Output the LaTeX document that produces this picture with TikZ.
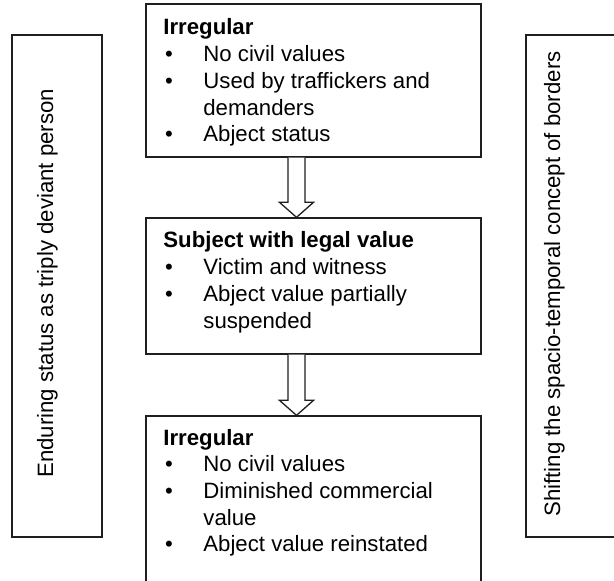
\documentclass[tikz,border=0pt]{standalone}
\usepackage{fontspec}
\setmainfont{Liberation Sans}
\usetikzlibrary{fit,calc}
\tikzset{
  boxframe/.style={draw=black!88, line width=0.65pt, inner sep=0pt},
  boxtext/.style={anchor=base west, align=left, inner sep=0pt, font=\fontsize{11.1pt}{13.35pt}\selectfont},
  sidetext/.style={anchor=base west, rotate=90, inner sep=0pt, font=\fontsize{11.1pt}{13.35pt}\selectfont},
  hollowarrow/.style={draw=black!88, line width=0.65pt, fill=white, line join=miter}
}
\newcommand{\bul}{\makebox[20pt][l]{\hspace{0.8pt}\textbullet}}
\newcommand{\ind}{\hspace*{20pt}}
\begin{document}
\begin{tikzpicture}[x=0.5pt,y=-0.5pt]
\clip (0,0) rectangle (614,581);
\fill[white] (0,0) rectangle (614,581);
% main boxes
\node[boxframe, fit={(146,4) (481,157)}] (b1) {};
\node[boxframe, fit={(146,218) (481,354)}] (b2) {};
\node[boxframe, fit={(146,416) (481,600)}] (b3) {};
% side boxes
\node[boxframe, fit={(12,35) (102,537)}] (left) {};
\node[boxframe, fit={(526,35) (640,537)}] (right) {};
% texts (anchored at the baseline of their last line)
\node[boxtext] (t1) at (163,141.8) {\textbf{Irregular}\\
\bul No civil values\\
\bul Used by traffickers and\\
\ind demanders\\
\bul Abject status};
\node[boxtext] (t2) at (163,328.1) {\textbf{Subject with legal value}\\
\bul Victim and witness\\
\bul Abject value partially\\
\ind suspended};
\node[boxtext] (t3) at (163,551.8) {\textbf{Irregular}\\
\bul No civil values\\
\bul Diminished commercial\\
\ind value\\
\bul Abject value reinstated};
\node[sidetext] (lt) at (53,478) {Enduring status as triply deviant person};
\node[sidetext] (rt) at (560,517) {Shifting the spacio-temporal concept of borders};
% hollow arrows
\coordinate (a1s) at ($(b1.south)+(-17,0)$);
\coordinate (a1e) at ($(b2.north)+(-17,0)$);
\draw[hollowarrow] ($(a1s)+(-8.5,0)$) -- ($(a1e)+(-8.5,-15)$) -- ($(a1e)+(-17,-15)$) -- (a1e) -- ($(a1e)+(17,-15)$) -- ($(a1e)+(8.5,-15)$) -- ($(a1s)+(8.5,0)$);
\coordinate (a2s) at ($(b2.south)+(-17,0)$);
\coordinate (a2e) at ($(b3.north)+(-17,0)$);
\draw[hollowarrow] ($(a2s)+(-8.5,0)$) -- ($(a2e)+(-8.5,-15)$) -- ($(a2e)+(-17,-15)$) -- (a2e) -- ($(a2e)+(17,-15)$) -- ($(a2e)+(8.5,-15)$) -- ($(a2s)+(8.5,0)$);
\end{tikzpicture}
\end{document}
